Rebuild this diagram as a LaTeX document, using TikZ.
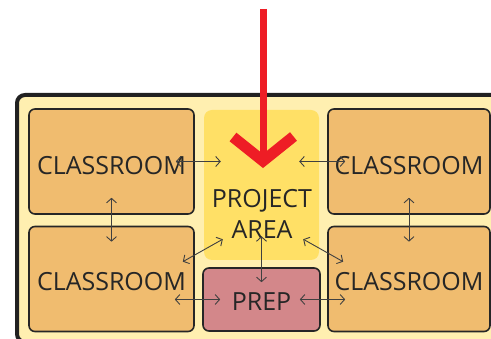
\documentclass[tikz,border=0pt]{standalone}
\usepackage{xcolor}
\usepackage{fontspec}
\setmainfont{Open Sans}
\usepackage{tikz}
\usetikzlibrary{arrows.meta, positioning}
\definecolor{wingfill}{HTML}{FFEFB0}
\definecolor{roomfill}{HTML}{F0BC6F}
\definecolor{projfill}{HTML}{FFE066}
\definecolor{prepfill}{HTML}{D3878A}
\definecolor{entryred}{HTML}{EE1D25}
\tikzset{
    room/.style={rectangle, rounded corners=6pt, draw=black!85, fill=#1, line width=1.6pt, minimum width=165pt, minimum height=105pt, inner sep=0pt},
    link/.style={{Straight Barb[length=4.5pt,width=10pt]}-{Straight Barb[length=4.5pt,width=10pt]}, draw=black!75, line width=0.9pt},
    entry/.style={draw=entryred, line width=#1}
}

\begin{document}
\begin{tikzpicture}[x=1pt, y=-1pt, font=\fontsize{25}{31}\selectfont, text=black!85]
            \useasboundingbox (0,0) rectangle (491,339);
            \clip (0,0) rectangle (491,339);
            % Wing outline
            \draw[fill=wingfill, draw=black!87, line width=4pt, rounded corners=8pt] (17,95) rectangle (520,342);
            
            % Classrooms
            \node[room=roomfill, label={[yshift=-4pt]center:CLASSROOM}] (room1) at (111.5,161.5) {};
            \node[room=roomfill, label={[yshift=-3pt]center:CLASSROOM}] (room2) at (111.5,279) {};
            \node[room=roomfill, minimum width=162pt, label={[yshift=-4pt]center:CLASSROOM}] (room3) at (409,161.5) {};
            \node[room=roomfill, minimum width=162pt, label={[yshift=-3pt]center:CLASSROOM}] (room4) at (409,279) {};
            
            % Project area and prep
            \node[rectangle, rounded corners=8pt, fill=projfill, minimum width=115pt, minimum height=150pt] (proj) at (261.5,185) {};
            \node[align=center] (projtext) at (262,213.5) {PROJECT\\AREA};
            \node[room=prepfill, minimum width=117pt, minimum height=63pt, label={[yshift=-2pt]center:PREP}] (prep) at (261.5,299.5) {};
            
            % Links
            \draw[link] ([xshift=-19pt]room1.east) -- ([xshift=17pt]proj.west |- room1.east);
            \draw[link] ([xshift=-20pt]proj.east |- room3.west) -- ([xshift=18pt]room3.west);
            \draw[link] ([yshift=17pt]room1.south) -- ([yshift=-16pt]room2.north);
            \draw[link] ([yshift=17pt]room3.south) -- ([yshift=-16pt]room4.north);
            \draw[link] ([xshift=-12pt,yshift=-36pt]room2.north east) -- ([xshift=19pt,yshift=21pt]proj.south west);
            \draw[link] ([xshift=-16pt,yshift=21pt]proj.south east) -- ([xshift=16pt,yshift=-36pt]room4.north west);
            \draw[link] ([yshift=24pt]proj.south) -- ([yshift=-15pt]prep.north);
            \draw[link] ([xshift=-20pt]room2.east |- prep.west) -- ([xshift=18pt]prep.west);
            \draw[link] ([xshift=-21pt]prep.east) -- ([xshift=18pt]room4.west |- prep.east);
            
            % Entrance
            \coordinate (gate) at (263,9);
            \coordinate (tip) at (263,161);
            \draw[entry=7pt] (gate) -- ([yshift=3pt]tip);
            \draw[entry=11pt, miter limit=4] (233,137) -- (tip) -- (293.5,136.5);
            
        \end{tikzpicture}
\end{document}
